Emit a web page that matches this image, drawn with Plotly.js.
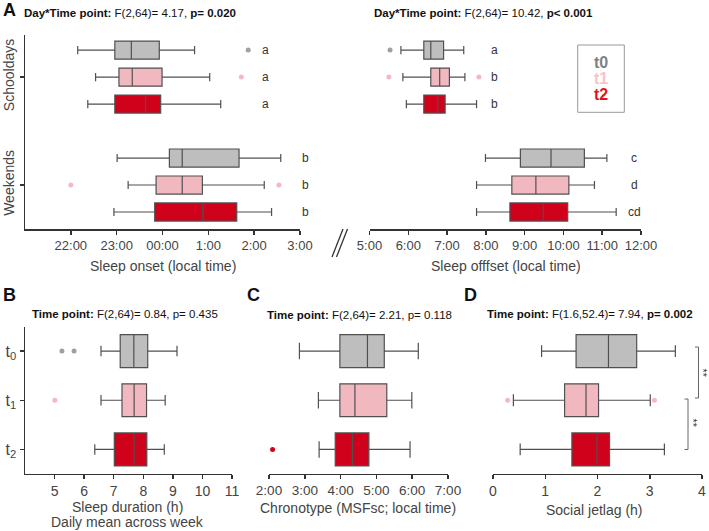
<!DOCTYPE html>
<html>
<head>
<meta charset="utf-8">
<script src="https://cdn.plot.ly/plotly-3.0.1.min.js"></script>
<style>html,body{margin:0;padding:0;background:#fff}#chart{width:709px;height:531px}</style>
</head>
<body>
<div id="chart"></div>
<script>
// ---------------- DATA ----------------
const timePoints = ['t0', 't1', 't2'];
// Each row: [lower whisker, Q1, median, Q3, upper whisker] for t0, t1, t2

// A (left): sleep onset, hours relative to midnight (negative = before midnight)
const onsetSchool  = [[-1.85, -1.04, -0.68, -0.07, 0.70], [-1.46, -0.95, -0.66, -0.01, 1.03], [-1.63, -1.04, -0.37, -0.04, 1.27]];
const onsetWeekend = [[-0.99, 0.15, 0.43, 1.67, 2.58], [-0.75, -0.14, 0.43, 0.87, 2.22], [-1.06, -0.17, 0.88, 1.62, 2.38]];
const onsetSchoolOut  = [[1.87], [1.72], []];
const onsetWeekendOut = [[], [-2.0, 2.54], []];
const onsetSchoolLetters  = ['a', 'a', 'a'];
const onsetWeekendLetters = ['b', 'b', 'b'];
const onsetTickVals = [-2, -1, 0, 1, 2, 3];
const onsetTickText = ['22:00', '23:00', '00:00', '1:00', '2:00', '3:00'];

// A (right): sleep offset, hours of day
const offsetSchool  = [[5.81, 6.40, 6.58, 6.91, 7.43], [5.86, 6.58, 6.81, 7.06, 7.46], [5.95, 6.40, 6.76, 6.95, 7.76]];
const offsetWeekend = [[7.99, 8.89, 9.68, 10.54, 11.12], [7.76, 8.67, 9.29, 10.14, 10.80], [7.76, 8.62, 9.48, 10.11, 11.36]];
const offsetSchoolOut  = [[5.53], [5.50, 7.82], []];
const offsetWeekendOut = [[], [], []];
const offsetSchoolLetters  = ['a', 'b', 'b'];
const offsetWeekendLetters = ['c', 'd', 'cd'];
const offsetTickVals = [5, 6, 7, 8, 9, 10, 11, 12];
const offsetTickText = ['5:00', '6:00', '7:00', '8:00', '9:00', '10:00', '11:00', '12:00'];

// B: sleep duration (h)
const durationStats = [[6.57, 7.22, 7.68, 8.15, 9.14], [6.57, 7.28, 7.69, 8.11, 8.74], [6.36, 7.02, 7.69, 8.12, 8.71]];
const durationOut = [[5.25, 5.66], [5.01], []];
const durationTickVals = [5, 6, 7, 8, 9, 10, 11];

// C: chronotype (MSFsc), hours of day
const chronoStats = [[2.85, 3.98, 4.75, 5.22, 6.17], [3.38, 3.98, 4.40, 5.29, 5.99], [3.40, 3.85, 4.33, 4.79, 5.94]];
const chronoOut = [[], [], [2.10]];
const chronoTickVals = [2, 3, 4, 5, 6, 7];
const chronoTickText = ['2:00', '3:00', '4:00', '5:00', '6:00', '7:00'];

// D: social jetlag (h)
const sjlStats = [[0.93, 1.59, 2.21, 2.75, 3.49], [0.39, 1.37, 1.78, 2.02, 3.01], [0.52, 1.51, 1.99, 2.23, 3.28]];
const sjlOut = [[], [0.28, 3.09], []];
const sjlTickVals = [0, 1, 2, 3, 4];

const yTickText = ['t<sub>0</sub>', 't<sub>1</sub>', 't<sub>2</sub>'];

// ---------------- STYLE ----------------
const W = 709, H = 531;
const PX = x => x / W;
const PY = y => 1 - y / H;
const FONT = 'Liberation Sans, Arial, Helvetica, sans-serif';
const fills = ['#bebebe', '#f2b8c0', '#d0021b'];
const outColors = ['#a0a0a0', '#f4b8c2', '#d0021b'];
const legendColors = ['#7f7f7f', '#f7c3cb', '#e3121e'];
const lineCol = '#505050';
const axisCol = '#333333';

const traces = [];
function addBoxes(statsList, positions, xa, ya, ww) {
  for (let t = 0; t < 3; t++) {
    const rows = statsList.map(s => s[t]);
    traces.push({
      type: 'box', orientation: 'h', name: timePoints[t],
      y: positions[t],
      lowerfence: rows.map(r => r[0]), q1: rows.map(r => r[1]), median: rows.map(r => r[2]),
      q3: rows.map(r => r[3]), upperfence: rows.map(r => r[4]),
      fillcolor: fills[t], line: {color: lineCol, width: 1.2},
      width: 0.67, whiskerwidth: ww, boxpoints: false,
      xaxis: xa, yaxis: ya, showlegend: false, hoverinfo: 'x'
    });
  }
}
function addOutliers(outList, positions, xa, ya) {
  for (let t = 0; t < 3; t++) {
    const xs = [], ys = [];
    outList.forEach((o, g) => o[t].forEach(v => { xs.push(v); ys.push(positions[t][g]); }));
    if (!xs.length) continue;
    traces.push({type: 'scatter', mode: 'markers', x: xs, y: ys, xaxis: xa, yaxis: ya,
      marker: {color: outColors[t], size: 5}, showlegend: false, cliponaxis: false, hoverinfo: 'x'});
  }
}

// Panel A positions: schooldays t0..t2 at 0..2, weekends at 4..6
const posA = [[0, 4], [1, 5], [2, 6]];
addBoxes([onsetSchool, onsetWeekend], posA, 'x', 'y', 0.45);
addOutliers([onsetSchoolOut, onsetWeekendOut], posA, 'x', 'y');
addBoxes([offsetSchool, offsetWeekend], posA, 'x2', 'y2', 0.45);
addOutliers([offsetSchoolOut, offsetWeekendOut], posA, 'x2', 'y2');
const posB = [[0], [1], [2]];
addBoxes([durationStats], posB, 'x3', 'y3', 0.32);
addOutliers([durationOut], posB, 'x3', 'y3');
addBoxes([chronoStats], posB, 'x4', 'y4', 0.5);
addOutliers([chronoOut], posB, 'x4', 'y4');
addBoxes([sjlStats], posB, 'x5', 'y5', 0.36);
addOutliers([sjlOut], posB, 'x5', 'y5');

function xAx(l, r, range, tv, tt, anchor, fs) {
  const a = {domain: [PX(l), PX(r)], range: range, anchor: anchor, tickvals: tv,
    showline: true, linecolor: axisCol, linewidth: 1.5, ticks: 'outside', ticklen: 4, tickwidth: 1.5,
    tickcolor: axisCol, tickfont: {size: fs, color: '#444', family: FONT}, showgrid: false, zeroline: false, fixedrange: true};
  if (tt) a.ticktext = tt;
  return a;
}
function yAx(top, bot, range, anchor, visible) {
  return {domain: [PY(bot), PY(top)], range: range, anchor: anchor, visible: visible,
    showline: visible, linecolor: axisCol, linewidth: 1.5, ticks: visible ? 'outside' : '', ticklen: 4, tickwidth: 1.5,
    tickcolor: axisCol, showgrid: false, zeroline: false, fixedrange: true};
}

const yA = yAx(35, 229, [6.63, -0.56], 'x', true);
yA.tickvals = [1, 5]; yA.ticktext = ['Schooldays', 'Weekends']; yA.tickangle = -90;
yA.tickfont = {size: 14, color: '#444', family: FONT};
const yB = yAx(327, 473.5, [2.49, -0.49], 'x3', true);
yB.tickvals = [0, 1, 2]; yB.ticktext = yTickText; yB.tickfont = {size: 16, color: '#444', family: FONT};

const ann = [];
function txt(x, y, text, size, opts) {
  ann.push(Object.assign({xref: 'paper', yref: 'paper', x: PX(x), y: PY(y), text: text, showarrow: false,
    xanchor: 'center', yanchor: 'middle', font: {size: size, color: '#111', family: FONT}}, opts || {}));
}
// panel letters
txt(9, 10, '<b>A</b>', 18);
txt(9, 295, '<b>B</b>', 18);
txt(253, 295, '<b>C</b>', 18);
txt(462, 295, '<b>D</b>', 18, {xanchor: 'left'});
// headers
txt(22, 13, '<b>Day*Time point:</b> F(2,64)= 4.17, <b>p= 0.020</b>', 11.5, {xanchor: 'left'});
txt(372, 13, '<b>Day*Time point:</b> F(2,64)= 10.42, <b>p< 0.001</b>', 11.5, {xanchor: 'left'});
txt(30, 314, '<b>Time point:</b> F(2,64)= 0.84, p= 0.435', 11.5, {xanchor: 'left'});
txt(265, 315, '<b>Time point:</b> F(2,64)= 2.21, p= 0.118', 11.5, {xanchor: 'left'});
txt(485, 314, '<b>Time point:</b> F(1.6,52.4)= 7.94, <b>p= 0.002</b>', 11.5, {xanchor: 'left'});
// axis titles
const tc = {font: {size: 14, color: '#444', family: FONT}};
txt(163, 266, 'Sleep onset (local time)', 14, tc);
txt(506, 266, 'Sleep offfset (local time)', 14, tc);
txt(127, 507, 'Sleep duration (h)', 14, tc);
txt(127, 522, 'Daily mean across week', 14, tc);
txt(358, 508, 'Chronotype (MSFsc; local time)', 14, tc);
txt(594, 510, 'Social jetlag (h)', 14, tc);
// significance letters (panel A)
function letters(arr, pos, xpx, ya) {
  arr.forEach((s, t) => ann.push({xref: 'paper', yref: ya, x: PX(xpx), y: pos[t], text: s, showarrow: false,
    xanchor: 'center', yanchor: 'middle', font: {size: 12, color: '#333', family: FONT}}));
}
letters(onsetSchoolLetters, [0, 1, 2], 265, 'y');
letters(onsetWeekendLetters, [4, 5, 6], 305, 'y');
letters(offsetSchoolLetters, [0, 1, 2], 494, 'y2');
letters(offsetWeekendLetters, [4, 5, 6], 634, 'y2');
// legend
['t0', 't1', 't2'].forEach((s, t) => txt(601, [62, 78.5, 95][t], '<b>' + s + '</b>', 16,
  {font: {size: 16, color: legendColors[t], family: FONT}}));
// bracket stars
txt(702.5, 373, '**', 11, {textangle: 90, borderpad: 0, font: {size: 11, color: '#333', family: FONT}});
txt(692.5, 423, '**', 11, {textangle: 90, borderpad: 0, font: {size: 11, color: '#333', family: FONT}});

function seg(x0, y0, x1, y1, col, w) {
  return {type: 'line', xref: 'paper', yref: 'paper', x0: PX(x0), y0: PY(y0), x1: PX(x1), y1: PY(y1),
    line: {color: col, width: w}};
}
const shapes = [
  seg(332, 257, 343, 229, '#333', 1.3),
  seg(336.5, 257, 347.5, 229, '#333', 1.3),
  {type: 'rect', xref: 'paper', yref: 'paper', x0: PX(577.7), x1: PX(624.3), y0: PY(112.3), y1: PY(45),
    line: {color: '#999', width: 1}},
  seg(698.5, 347, 698.5, 398, '#666', 1), seg(695, 347, 698.5, 347, '#666', 1), seg(695, 398, 698.5, 398, '#666', 1),
  seg(688, 399, 688, 449.5, '#666', 1), seg(684.5, 399, 688, 399, '#666', 1), seg(684.5, 449.5, 688, 449.5, '#666', 1)
];

const layout = {
  width: W, height: H, margin: {l: 0, r: 0, t: 0, b: 0},
  paper_bgcolor: '#fff', plot_bgcolor: 'rgba(0,0,0,0)',
  font: {family: FONT, color: '#444'},
  showlegend: false, boxmode: 'overlay',
  xaxis: xAx(25, 300, [-3, 3], onsetTickVals, onsetTickText, 'y', 13),
  yaxis: yA,
  xaxis2: xAx(369.5, 641, [5, 12], offsetTickVals, offsetTickText, 'y2', 13),
  yaxis2: yAx(35, 229, [6.63, -0.56], 'x2', false),
  xaxis3: xAx(25, 232, [4, 11], durationTickVals, null, 'y3', 14),
  yaxis3: yB,
  xaxis4: xAx(269, 448, [2, 7], chronoTickVals, chronoTickText, 'y4', 13.5),
  yaxis4: yAx(327, 473.5, [2.49, -0.49], 'x4', false),
  xaxis5: xAx(493, 702, [0, 4], sjlTickVals, null, 'y5', 14),
  yaxis5: yAx(327, 473.5, [2.49, -0.49], 'x5', false),
  annotations: ann, shapes: shapes
};
Plotly.newPlot('chart', traces, layout, {staticPlot: true, displayModeBar: false});
</script>
</body>
</html>
